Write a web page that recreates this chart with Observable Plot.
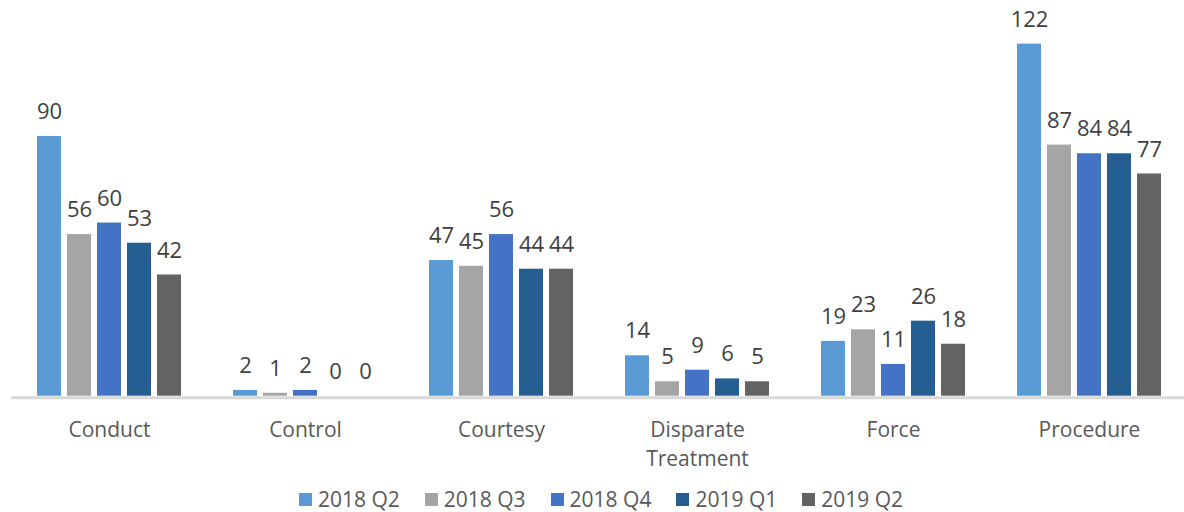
<!DOCTYPE html>
<html><head><meta charset="utf-8">
<script src="https://cdn.jsdelivr.net/npm/d3@7"></script>
<script src="https://cdn.jsdelivr.net/npm/@observablehq/plot@0.6"></script>
<style>
html,body{margin:0;padding:0;background:#fff;font-family:"Open Sans",sans-serif;}
#chart svg{display:block;}
#legend{display:flex;justify-content:center;padding-left:18px;font-size:21px;color:#595959;line-height:24px;margin-top:7px;}
#legend .item{display:flex;align-items:center;margin-right:25px;}
#legend .item:last-child{margin-right:0;}
#legend .sw{width:13px;height:13px;margin-right:6px;}
</style></head><body><div id="chart"></div><div id="legend"></div>
<script>
const categories = ["Conduct","Control","Courtesy","Disparate\nTreatment","Force","Procedure"];
const series = ["2018 Q2","2018 Q3","2018 Q4","2019 Q1","2019 Q2"];
const colors = ["#5B9BD5","#A5A5A5","#4472C4","#255E91","#636363"];
const q2_2018 = [90,2,47,14,19,122];
const q3_2018 = [56,1,45,5,23,87];
const q4_2018 = [60,2,56,9,11,84];
const q1_2019 = [53,0,44,6,26,84];
const q2_2019 = [42,0,44,5,18,77];
const seriesValues = [q2_2018,q3_2018,q4_2018,q1_2019,q2_2019];

const data = [];
categories.forEach((c,i)=>series.forEach((s,j)=>data.push({category:c, series:s, value:seriesValues[j][i]})));

const chart = Plot.plot({
  width:1184, height:480,
  marginLeft:9, marginRight:-5, marginTop:20.5, marginBottom:84.3,
  style:{fontFamily:"'Open Sans',sans-serif", background:"#fff"},
  fx:{domain:categories, padding:0, label:null},
  x:{domain:series, paddingInner:0.207, paddingOuter:0.855, axis:null},
  y:{domain:[0,130], axis:null},
  color:{domain:series, range:colors},
  marks:[
    Plot.barY(data,{fx:"category", x:"series", y:"value", fill:"series"}),
    Plot.ruleY([0],{stroke:"#d9d9d9", strokeWidth:3, dy:1.5}),
    Plot.text(data,{fx:"category", x:"series", y:"value", text:d=>String(d.value), dy:-24.5, lineAnchor:"middle", fontSize:22, fill:"#404040"}),
    Plot.axisFx({anchor:"bottom", tickSize:0, tickPadding:21, fontSize:21, lineHeight:1.36, color:"#595959", label:null})
  ]
});
document.getElementById("chart").appendChild(chart);

const lg = document.getElementById("legend");
series.forEach((s,j)=>{
  const it = document.createElement("div"); it.className="item";
  const sw = document.createElement("div"); sw.className="sw"; sw.style.background=colors[j];
  const tx = document.createElement("span"); tx.textContent=s;
  it.appendChild(sw); it.appendChild(tx); lg.appendChild(it);
});
</script></body></html>
